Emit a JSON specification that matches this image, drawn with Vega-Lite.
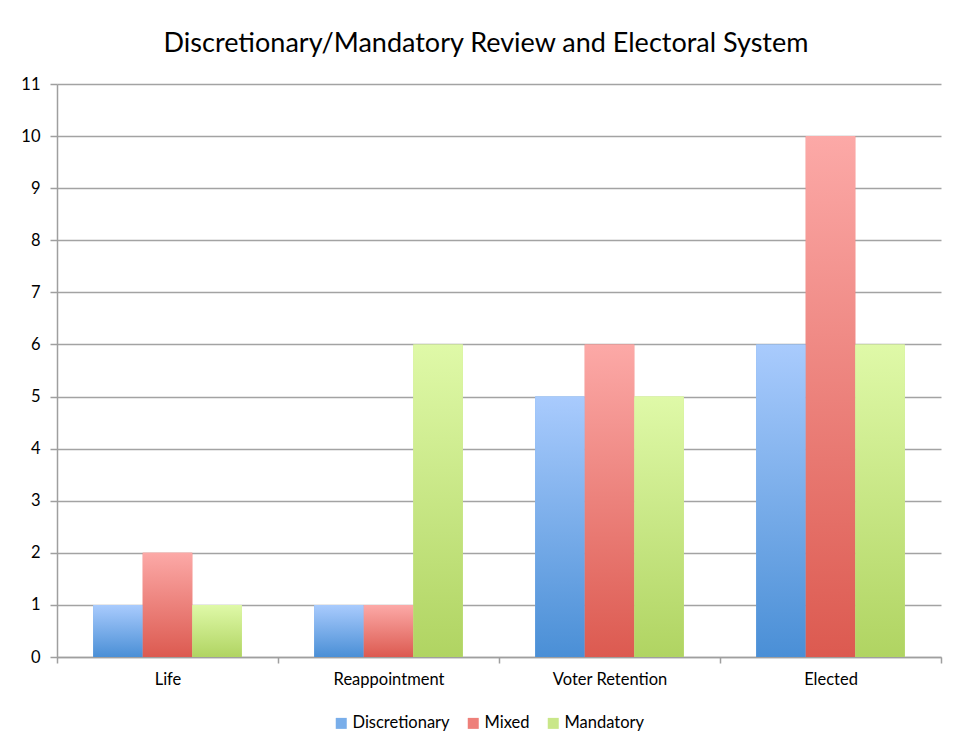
{
  "$schema": "https://vega.github.io/schema/vega-lite/v6.json",
  "width": 884,
  "height": 573,
  "autosize": {"type": "none"},
  "padding": {"left": 57, "top": 84, "right": 12, "bottom": 91},
  "background": "white",
  "title": {
    "text": "Discretionary/Mandatory Review and Electoral System",
    "font": "Lato",
    "fontSize": 27,
    "fontWeight": "normal",
    "color": "#000000",
    "anchor": "middle",
    "dx": -13,
    "offset": 18
  },
  "data": {
    "values": [
      {"system": "Life", "review": "Discretionary", "count": 1},
      {"system": "Life", "review": "Mixed", "count": 2},
      {"system": "Life", "review": "Mandatory", "count": 1},
      {"system": "Reappointment", "review": "Discretionary", "count": 1},
      {"system": "Reappointment", "review": "Mixed", "count": 1},
      {"system": "Reappointment", "review": "Mandatory", "count": 6},
      {"system": "Voter Retention", "review": "Discretionary", "count": 5},
      {"system": "Voter Retention", "review": "Mixed", "count": 6},
      {"system": "Voter Retention", "review": "Mandatory", "count": 5},
      {"system": "Elected", "review": "Discretionary", "count": 6},
      {"system": "Elected", "review": "Mixed", "count": 10},
      {"system": "Elected", "review": "Mandatory", "count": 6}
    ]
  },
  "encoding": {
    "x": {
      "field": "system",
      "type": "nominal",
      "sort": null,
      "title": null,
      "scale": {"paddingInner": 0, "paddingOuter": 0},
      "axis": {
        "labelAngle": 0,
        "labelFont": "Lato",
        "labelFontSize": 16.5,
        "labelColor": "#000000",
        "labelPadding": 8,
        "tickBand": "extent",
        "tickSize": 6,
        "tickColor": "#9f9f9f",
        "tickWidth": 1.5,
        "domainColor": "#9f9f9f",
        "domainWidth": 1.5,
        "grid": false
      }
    },
    "xOffset": {
      "field": "review",
      "type": "nominal",
      "scale": {
        "domain": ["Discretionary", "Mixed", "Mandatory"],
        "paddingInner": 0,
        "paddingOuter": 0.73
      }
    },
    "y": {
      "field": "count",
      "type": "quantitative",
      "title": null,
      "scale": {"domain": [0, 11], "nice": false},
      "axis": {
        "values": [0, 1, 2, 3, 4, 5, 6, 7, 8, 9, 10, 11],
        "labelFont": "Lato",
        "labelFontSize": 16.5,
        "labelColor": "#000000",
        "labelPadding": 10,
        "tickSize": 7,
        "tickColor": "#9f9f9f",
        "tickWidth": 1.5,
        "domainColor": "#9f9f9f",
        "domainWidth": 1.5,
        "grid": true,
        "gridColor": "#a3a3a3",
        "gridWidth": 1.4
      }
    }
  },
  "layer": [
    {
      "mark": {"type": "bar"},
      "encoding": {
        "color": {
          "field": "review",
          "type": "nominal",
          "scale": {
            "domain": ["Discretionary", "Mixed", "Mandatory"],
            "range": ["#79aeea", "#ee807a", "#c9e789"]
          },
          "legend": {
            "title": null,
            "orient": "none",
            "direction": "horizontal",
            "legendX": 276,
            "legendY": 631,
            "symbolType": "square",
            "symbolSize": 121,
            "symbolStrokeWidth": 0,
            "labelFont": "Lato",
            "labelFontSize": 16.5,
            "labelColor": "#000000",
            "labelOffset": 3,
            "columnPadding": 15,
            "padding": 0
          }
        }
      }
    },
    {
      "transform": [{"filter": "datum.review === 'Discretionary'"}],
      "mark": {
        "type": "bar",
        "fill": {
          "gradient": "linear", "x1": 0, "y1": 0, "x2": 0, "y2": 1,
          "stops": [
            {"offset": 0, "color": "#a9cbfd"},
            {"offset": 1, "color": "#4a8fd6"}
          ]
        }
      }
    },
    {
      "transform": [{"filter": "datum.review === 'Mixed'"}],
      "mark": {
        "type": "bar",
        "fill": {
          "gradient": "linear", "x1": 0, "y1": 0, "x2": 0, "y2": 1,
          "stops": [
            {"offset": 0, "color": "#fca9a7"},
            {"offset": 1, "color": "#dc5a50"}
          ]
        }
      }
    },
    {
      "transform": [{"filter": "datum.review === 'Mandatory'"}],
      "mark": {
        "type": "bar",
        "fill": {
          "gradient": "linear", "x1": 0, "y1": 0, "x2": 0, "y2": 1,
          "stops": [
            {"offset": 0, "color": "#dff9a8"},
            {"offset": 1, "color": "#b0d462"}
          ]
        }
      }
    }
  ],
  "config": {
    "view": {"stroke": null},
    "axis": {"labelFontWeight": "normal"}
  }
}
